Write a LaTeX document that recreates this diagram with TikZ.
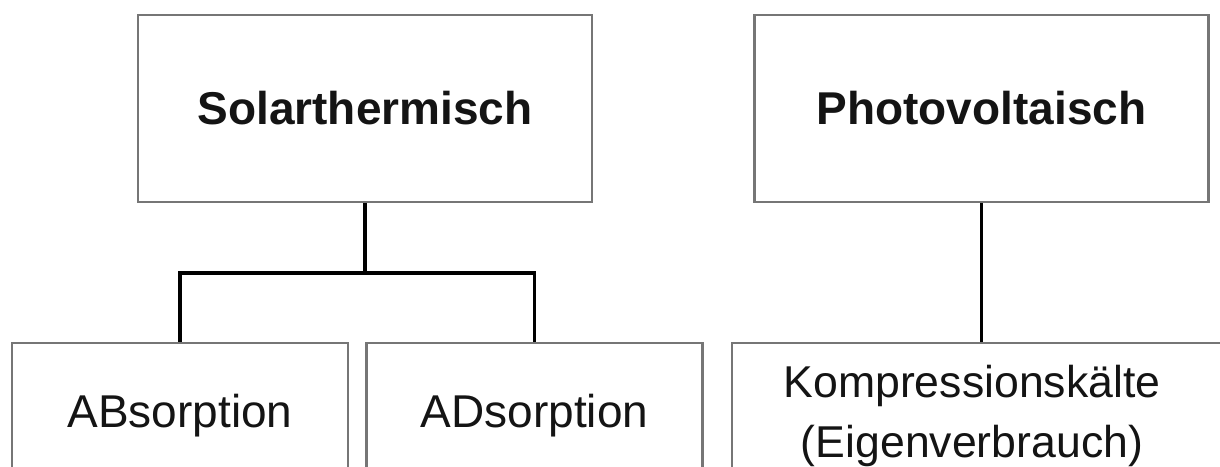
\documentclass[tikz,border=0pt]{standalone}
\usepackage{fontspec}
\setmainfont{Liberation Sans}
\usetikzlibrary{positioning}
\definecolor{BoxGray}{HTML}{767676}
\definecolor{InkBlack}{HTML}{141414}
\tikzset{
  topbox/.style={draw=BoxGray,line width=1.2pt,
    minimum width=227pt,minimum height=93.5pt,
    font=\fontsize{23}{28}\selectfont\bfseries,text=InkBlack,
    align=center,inner sep=0pt},
  subbox/.style={draw=BoxGray,line width=1.2pt,
    minimum width=168pt,minimum height=68pt,
    font=\fontsize{23}{31}\selectfont,text=InkBlack,
    text depth=0pt,align=center,inner sep=0pt},
  subtext/.style={font=\fontsize{22.3}{30}\selectfont,text=InkBlack,
    align=center,inner sep=0pt},
  link/.style={line width=1.6pt,draw=black},
}

\begin{document}
\begin{tikzpicture}[x=0.5pt,y=-0.5pt]
  \useasboundingbox (0,0) rectangle (1220,466);
  \clip (0,0) rectangle (1220,466);
  % Kategorien oben
  \node[topbox] (solar) at (365,108.5) {Solarthermisch};
  \node[topbox] (pv) at (981.5,108.5) {Photovoltaisch};
  % Verfahren unten
  \node[subbox] (abs) at (180,411) {ABsorption};
  \node[subbox] (ads) at (534.5,411) {ADsorption};
  \node[subbox,minimum width=254pt] (komp) at (986,411) {};
  \node[subtext] (kompText) at (972,416) {Kompressionskälte\\(Eigenverbrauch)};
  % Verbindungen
  \coordinate (fork) at (365,273);
  \draw[link] (solar.south) -- (fork);
  \draw[link] (abs.north) |- (fork) -| (ads.north);
  \draw[link] (pv.south) -- (pv.south |- komp.north);
\end{tikzpicture}
\end{document}
